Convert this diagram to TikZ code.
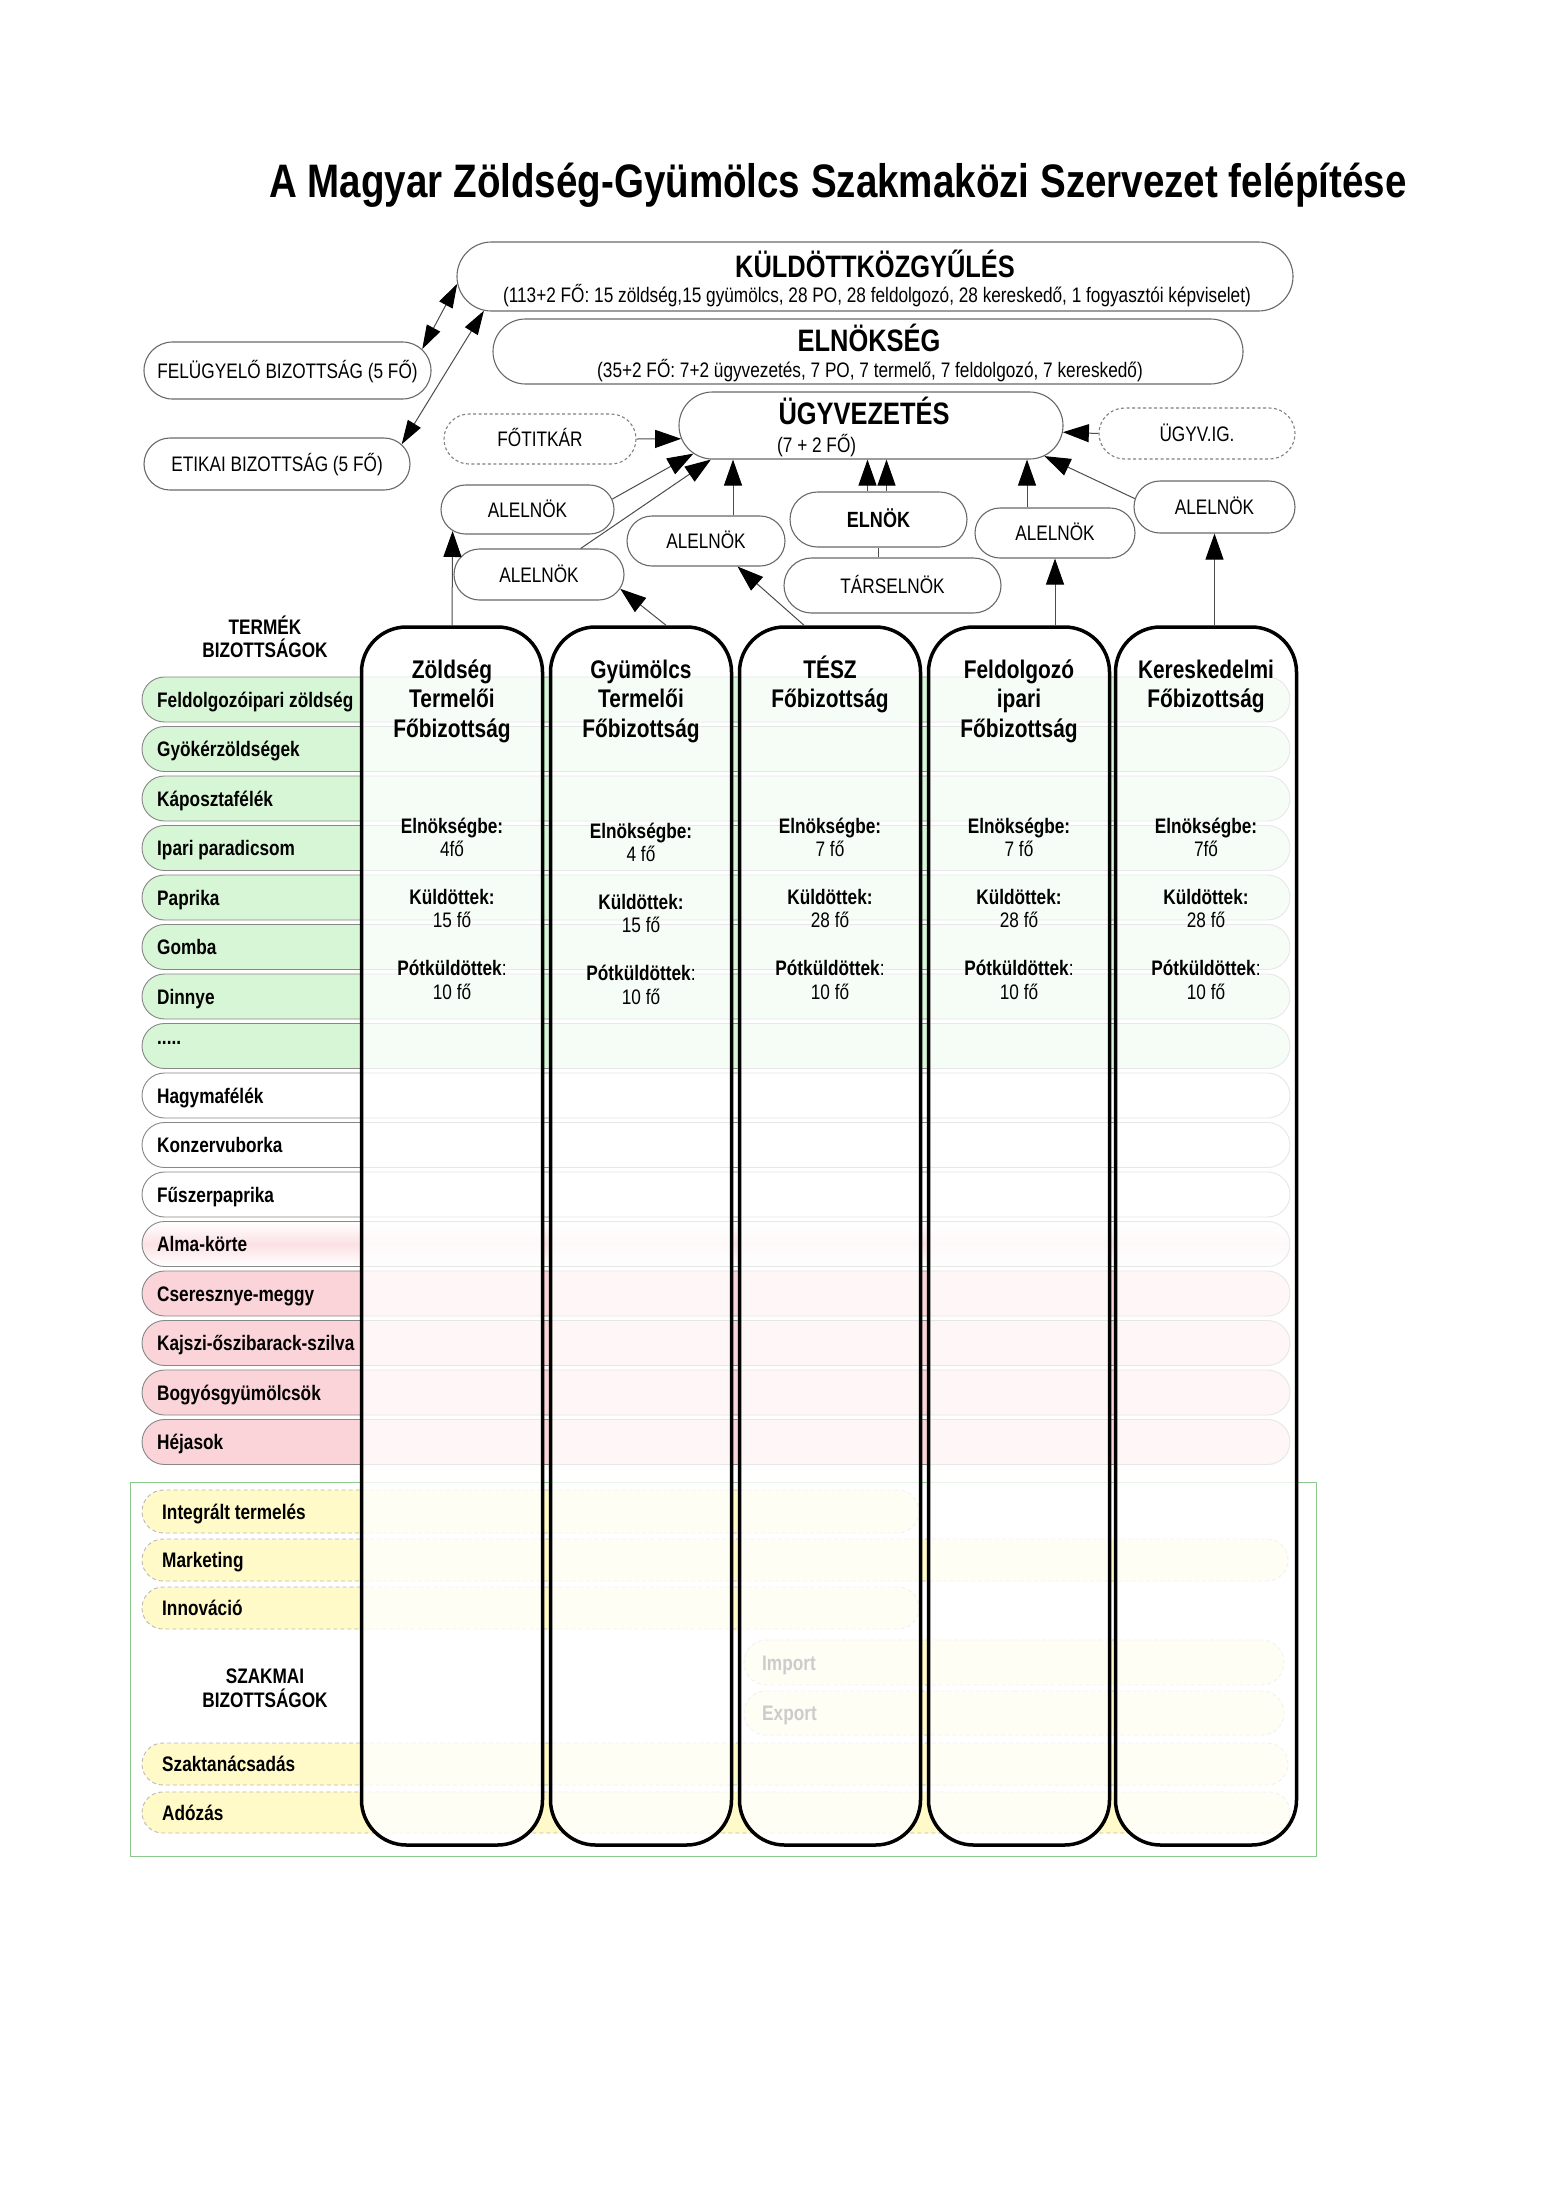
\documentclass[tikz,border=0pt]{standalone}
\usepackage{fontspec}
\setmainfont{Liberation Sans}[FakeStretch=0.82]
\usetikzlibrary{shapes.misc,arrows.meta,calc}
\definecolor{rowgreen}{RGB}{214,246,214}
\definecolor{rowpink}{RGB}{250,212,216}
\definecolor{rowyel}{RGB}{255,250,200}
\definecolor{edge}{RGB}{105,105,105}
\definecolor{frameg}{RGB}{140,200,140}
\newcommand\fnreg{\fontsize{21}{25}\selectfont}
\newcommand\fnbold{\fontsize{21}{25}\selectfont\bfseries}
\newcommand\fnhead{\fontsize{25.5}{30}\selectfont\bfseries}
\newcommand\fnbig{\fontsize{31}{36}\selectfont\bfseries}
\begin{document}
\begin{tikzpicture}[x=1pt,y=-1pt,
  txt/.style={inner sep=0pt, text height=0.72em, text depth=0pt},
  pill/.style={rounded rectangle, draw=edge, line width=1.1pt, fill=white, inner sep=0pt, node font=\fnreg, text height=0.72em, text depth=0pt},
  dpill/.style={pill, draw=gray, dash pattern=on 3pt off 2.5pt},
  rowbox/.style={rounded rectangle, draw=edge!80, line width=0.9pt, minimum width=1148pt, minimum height=45pt, inner sep=0pt},
  yrow/.style={rounded rectangle, draw=gray!55, dash pattern=on 4pt off 3pt, line width=0.9pt, fill=rowyel, inner sep=0pt},
  colbox/.style={rectangle, rounded corners=45pt, draw=black, line width=3.5pt, fill=white, fill opacity=0.8, minimum width=181pt, minimum height=1218pt, inner sep=0pt},
  arr/.style={draw=black!70, line width=1pt, -{Triangle[length=26pt,width=18pt,color=black]}},
  darr/.style={draw=black!70, line width=1pt, {Triangle[length=24pt,width=15pt,color=black]}-{Triangle[length=24pt,width=15pt,color=black]}},
  ln/.style={draw=black!70, line width=1pt}]
\useasboundingbox (0,0) rectangle (1550,2193);
\fill[white] (0,0) rectangle (1550,2193);

% product rows
\foreach \i/\lab in {0/Feldolgozóipari zöldség,1/Gyökérzöldségek,2/Káposztafélék,3/Ipari paradicsom,4/Paprika,5/Gomba,6/Dinnye}{
  \node[rowbox,fill=rowgreen] (r\i) at (716,{699.5+49.5*\i}) {};
  \node[txt,node font=\fnbold,anchor=west] (rt\i) at (157,{699.5+49.5*\i}) {\lab};
}
\node[rowbox,fill=rowgreen] (r7) at (716,{699.5+49.5*7}) {};
\node[txt,node font=\fnbold,anchor=west] (rt7) at (157,{699.5+49.5*7-9}) {.....};
\foreach \i/\lab in {8/Hagymafélék,9/Konzervuborka,10/Fűszerpaprika}{
  \node[rowbox,fill=white] (r\i) at (716,{699.5+49.5*\i}) {};
  \node[txt,node font=\fnbold,anchor=west] (rt\i) at (157,{699.5+49.5*\i}) {\lab};
}
\node[rowbox,top color=white,bottom color=white,middle color=rowpink!70] (r11) at (716,{699.5+49.5*11}) {};
\node[txt,node font=\fnbold,anchor=west] (rt11) at (157,{699.5+49.5*11}) {Alma-körte};
\foreach \i/\lab in {12/Cseresznye-meggy,13/Kajszi-őszibarack-szilva,14/Bogyósgyümölcsök,15/Héjasok}{
  \node[rowbox,fill=rowpink] (r\i) at (716,{699.5+49.5*\i}) {};
  \node[txt,node font=\fnbold,anchor=west] (rt\i) at (157,{699.5+49.5*\i}) {\lab};
}

% professional committees
\draw[frameg, line width=1pt] (130,1482) rectangle (1316,1856);
\node[yrow, minimum width=777pt, minimum height=43pt] (y1) at (530.5,1511.5) {};
\node[txt,node font=\fnbold,anchor=west] (yt1) at (162,1511.5) {Integrált termelés};
\node[yrow, minimum width=1146pt, minimum height=42pt] (y2) at (715,1560) {};
\node[txt,node font=\fnbold,anchor=west] (yt2) at (162,1560) {Marketing};
\node[yrow, minimum width=777pt, minimum height=42pt] (y3) at (530.5,1608) {};
\node[txt,node font=\fnbold,anchor=west] (yt3) at (162,1608) {Innováció};
\node[yrow, minimum width=540pt, minimum height=45pt] (y4) at (1014,1662.5) {};
\node[txt,node font=\fnbold,anchor=west] (yt4) at (762,1662.5) {Import};
\node[yrow, minimum width=540pt, minimum height=44pt] (y5) at (1014,1713) {};
\node[txt,node font=\fnbold,anchor=west] (yt5) at (762,1713) {Export};
\node[yrow, minimum width=1146pt, minimum height=42pt] (y6) at (715,1764) {};
\node[txt,node font=\fnbold,anchor=west] (yt6) at (162,1764) {Szaktanácsadás};
\node[yrow, minimum width=1148pt, minimum height=41pt] (y7) at (716,1812.5) {};
\node[txt,node font=\fnbold,anchor=west] (yt7) at (162,1812.5) {Adózás};

\node[txt,node font=\fnbold] (termek1) at (265,627) {TERMÉK};
\node[txt,node font=\fnbold] (termek2) at (265,650) {BIZOTTSÁGOK};
\node[txt,node font=\fnbold] (szakmai1) at (265,1676) {SZAKMAI};
\node[txt,node font=\fnbold] (szakmai2) at (265,1700) {BIZOTTSÁGOK};

% main committee columns
\foreach \k/\cx in {1/452,2/641,3/830,4/1019,5/1206}{
  \node[colbox] (col\k) at (\cx,1236) {};
}
\foreach \k/\cx/\hd in {1/452/{Zöldség,Termelői,Főbizottság},2/641/{Gyümölcs,Termelői,Főbizottság},3/830/{TÉSZ,Főbizottság},4/1019/{Feldolgozó,ipari,Főbizottság},5/1206/{Kereskedelmi,Főbizottság}}{
  \foreach \l [count=\j] in \hd {
    \node[txt,node font=\fnhead] (h\k-\j) at (\cx,{669+29.5*(\j-1)}) {\l};
  }
}
\foreach \k/\cx/\dy/\va/\vb in {1/452/0/4fő/15 fő,2/641/5/4 fő/15 fő,3/830/0/7 fő/28 fő,4/1019/0/7 fő/28 fő,5/1206/0/7fő/28 fő}{
  \node[txt,node font=\fnbold] (el\k) at (\cx,{826+\dy}) {Elnökségbe:};
  \node[txt,node font=\fnreg] (elv\k) at (\cx,{849+\dy}) {\va};
  \node[txt,node font=\fnbold] (ku\k) at (\cx,{897+\dy}) {Küldöttek:};
  \node[txt,node font=\fnreg] (kuv\k) at (\cx,{920+\dy}) {\vb};
  \node[txt,node font=\fnreg] (po\k) at (\cx,{968+\dy}) {\textbf{Pótküldöttek}:};
  \node[txt,node font=\fnreg] (pov\k) at (\cx,{992+\dy}) {10 fő};
}

% title
\node[txt,node font=\fontsize{47}{52}\selectfont\bfseries] (title) at (838,181) {A Magyar Zöldség-Gyümölcs Szakmaközi Szervezet felépítése};

% top bodies
\node[pill, minimum width=836pt, minimum height=69pt] (kgy) at (875,276.5) {};
\node[txt,node font=\fnbig] (kgyt) at (875,266) {KÜLDÖTTKÖZGYŰLÉS};
\node[txt,node font=\fnreg] (kgys) at (877,295) {(113+2 FŐ: 15 zöldség,15 gyümölcs, 28 PO, 28 feldolgozó, 28 kereskedő, 1 fogyasztói képviselet)};
\node[pill, minimum width=750pt, minimum height=65pt] (eln) at (868,351.5) {};
\node[txt,node font=\fnbig] (elnt) at (869,340) {ELNÖKSÉG};
\node[txt,node font=\fnreg] (elns) at (870,370) {(35+2 FŐ: 7+2 ügyvezetés, 7 PO, 7 termelő, 7 feldolgozó, 7 kereskedő)};
\node[pill, minimum width=287pt, minimum height=57pt] (felugy) at (287.5,370.5) {FELÜGYELŐ BIZOTTSÁG (5 FŐ)};
\node[pill, minimum width=266pt, minimum height=52pt] (etikai) at (277,464) {ETIKAI BIZOTTSÁG (5 FŐ)};
\node[pill, minimum width=384pt, minimum height=67pt] (ugyv) at (871,425.5) {};
\node[txt,node font=\fnbig] (ugyvt) at (864,413) {ÜGYVEZETÉS};
\node[txt,node font=\fnreg,anchor=west] (ugyvs) at (777,445) {(7 + 2 FŐ)};
\node[dpill, minimum width=192pt, minimum height=50pt] (fotitkar) at (540,439) {FŐTITKÁR};
\node[dpill, minimum width=196pt, minimum height=51pt] (ugyvig) at (1197,433.5) {ÜGYV.IG.};
\node[pill, minimum width=173pt, minimum height=49pt] (alel1) at (527.5,509.5) {ALELNÖK};
\node[pill, minimum width=170pt, minimum height=51pt] (alel2) at (539,574.5) {ALELNÖK};
\node[pill, minimum width=158pt, minimum height=50pt] (alel3) at (706,541) {ALELNÖK};
\node[pill, minimum width=177pt, minimum height=55pt, node font=\fontsize{22}{26}\selectfont\bfseries] (elnok) at (878.5,519.5) {ELNÖK};
\node[pill, minimum width=217pt, minimum height=55pt] (tarsel) at (892.5,585.5) {TÁRSELNÖK};
\node[pill, minimum width=160pt, minimum height=50pt] (alel4) at (1055,533) {ALELNÖK};
\node[pill, minimum width=161pt, minimum height=52pt] (alel5) at (1214.5,507) {ALELNÖK};

% connectors
\draw[darr] (felugy.9) -- (kgy.-179.5);
\draw[darr] (etikai.9) -- (kgy.-175.5);
\draw[arr] (fotitkar.east) -- (ugyv.184);
\draw[arr] (ugyvig.west) -- (ugyv.-2.4);
\draw[arr] (alel1.7) -- (ugyv.-171);
\draw[arr] (alel2.32) -- (ugyv.-168);
\coordinate (a3t) at ($(alel3.north)+(27,0)$);
\draw[arr] (a3t) -- (a3t |- ugyv.south);
\coordinate (e1t) at ($(elnok.north)+(-11,0)$);
\coordinate (e2t) at ($(elnok.north)+(8,0)$);
\draw[arr] (e1t) -- (e1t |- ugyv.south);
\draw[arr] (e2t) -- (e2t |- ugyv.south);
\coordinate (a4t) at ($(alel4.north)+(-28,0)$);
\draw[arr] (a4t) -- (a4t |- ugyv.south);
\draw[arr] (alel5.174) -- (ugyv.-10);
\draw[ln] (elnok.south) -- (elnok.south |- tarsel.north);
\draw[arr] (col1.north) -- (alel1.-164);
\coordinate (c2t) at ($(col2.north)+(25,0)$);
\draw[arr] (c2t) -- (alel2.-10);
\coordinate (c3t) at ($(col3.north)+(-26,0)$);
\draw[arr] (c3t) -- (alel3.-39);
\coordinate (c4t) at ($(col4.north)+(36,0)$);
\draw[arr] (c4t) -- (alel4.south);
\draw[arr] (alel5.south |- col5.north) -- (alel5.south);
\end{tikzpicture}
\end{document}
